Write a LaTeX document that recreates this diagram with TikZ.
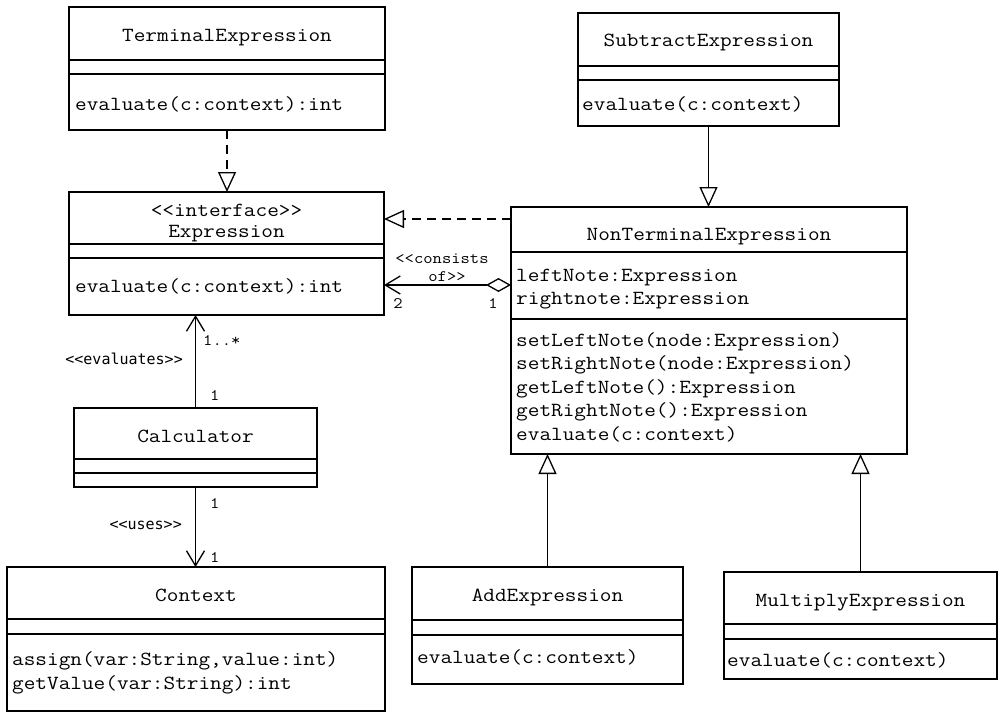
\documentclass[tikz,border=0pt]{standalone}
\usepackage{fontspec}
\usetikzlibrary{arrows.meta}
\newfontfamily\lblmono{DejaVu Sans Mono}
\newcommand\cw[1]{\scalebox{1.131}[1]{#1}}
\newcommand\umlclass[7]{%
  \node[cls, anchor=north west, minimum width={#4-#2}, minimum height={#5-#3}] (#1) at (#2,#3) {};
  \draw[div] (#1.west |- 0,#6) -- (#1.east |- 0,#6);
  \draw[div] (#1.west |- 0,#7) -- (#1.east |- 0,#7);
}
\tikzset{
  cls/.style={draw, line width=1.3pt, inner sep=0pt, outer sep=0pt},
  div/.style={line width=1.3pt},
  txt/.style={font=\ttfamily\fontsize{20}{24}\selectfont, inner sep=0pt, anchor=base},
  mtxt/.style={txt, anchor=base west},
  small/.style={font=\ttfamily\fontsize{16}{19}\selectfont, inner sep=0pt, anchor=base},
  smallw/.style={small, anchor=base west},
  slbl/.style={font=\lblmono\fontsize{15}{19}\selectfont, inner sep=0pt, anchor=base east},
  conn/.style={line width=1.3pt},
  inh/.style={conn, -{Triangle[open, length=20pt, width=18pt]}},
  real/.style={inh, dash pattern=on 9pt off 6pt},
  assoc/.style={conn, -{Straight Barb[length=15pt, width=18pt]}},
  aggr/.style={conn, {Diamond[open, length=25pt, width=14pt]}-{Straight Barb[length=15pt, width=18pt]}},
}
\begin{document}
\begin{tikzpicture}[x=1pt, y=-1pt]
\useasboundingbox (0,0) rectangle (1001,712);

% class boxes
\umlclass{term}{69}{7}{385}{130}{60}{74}
\umlclass{sub}{578}{13}{839}{126}{66}{80}
\umlclass{expr}{69}{192}{384}{315}{244}{258}
\umlclass{nonterm}{511}{207}{907}{454}{252}{319}
\umlclass{calc}{74}{408}{317}{487}{459}{473}
\umlclass{context}{7}{567}{385}{711}{619}{634}
\umlclass{add}{412}{567}{683}{684}{620}{635}
\umlclass{mul}{724}{572}{997}{679}{624}{639}

% texts
\node[txt] (termname) at (227,41) {\cw{TerminalExpression}};
\node[mtxt] (termm) at (75,110) {\cw{evaluate(c:context):int}};

\node[txt] (subname) at (708.5,46) {\cw{SubtractExpression}};
\node[mtxt] (subm) at (582,110) {\cw{evaluate(c:context)}};

\node[txt] (exprst) at (226.5,216) {\cw{<<interface>>}};
\node[txt] (exprname) at (226.5,237) {\cw{Expression}};
\node[mtxt] (exprm) at (75,292) {\cw{evaluate(c:context):int}};

\node[txt] (ntname) at (709,240) {\cw{NonTerminalExpression}};
\node[mtxt] (nta1) at (516,281) {\cw{leftNote:Expression}};
\node[mtxt] (nta2) at (516,304) {\cw{rightnote:Expression}};
\node[mtxt] (ntm1) at (516,346) {\cw{setLeftNote(node:Expression)}};
\node[mtxt] (ntm2) at (516,369.5) {\cw{setRightNote(node:Expression)}};
\node[mtxt] (ntm3) at (516,393) {\cw{getLeftNote():Expression}};
\node[mtxt] (ntm4) at (516,416.5) {\cw{getRightNote():Expression}};
\node[mtxt] (ntm5) at (516,440) {\cw{evaluate(c:context)}};

\node[txt] (calcname) at (195.5,442) {\cw{Calculator}};

\node[txt] (ctxname) at (196,601) {\cw{Context}};
\node[mtxt] (ctxm1) at (12,665) {\cw{assign(var:String,value:int)}};
\node[mtxt] (ctxm2) at (12,689) {\cw{getValue(var:String):int}};

\node[txt] (addname) at (547.5,601) {\cw{AddExpression}};
\node[mtxt] (addm) at (417,663) {\cw{evaluate(c:context)}};

\node[txt] (mulname) at (860.5,606) {\cw{MultiplyExpression}};
\node[mtxt] (mulm) at (727,666) {\cw{evaluate(c:context)}};

% connectors
\draw[real] (term.south) -- (term.south |- expr.north);
\draw[real] (nonterm.west |- 0,219) -- (expr.east |- 0,219);
\draw[aggr] (nonterm.west |- 0,285) -- (expr.east |- 0,285);
\draw[assoc] (calc.north) -- (calc.north |- expr.south);
\draw[assoc] (calc.south) -- (calc.south |- context.north);
\draw[inh] (sub.south) -- (sub.south |- nonterm.north);
\draw[inh] (add.north) -- (add.north |- nonterm.south);
\draw[inh] (mul.north) -- (mul.north |- nonterm.south);

% connector labels
\node[small] (cons1) at (442,263) {\cw{<<consists}};
\node[small] (cons2) at (447,281) {\cw{of>>}};
\node[small] (m2) at (398,308) {\cw{2}};
\node[small] (m1) at (493,308) {\cw{1}};
\node[smallw] (mstar) at (203,345) {\cw{1..*}};
\node[slbl] (evals) at (183,364) {<<evaluates>>};
\node[smallw] (mc1) at (210,400) {\cw{1}};
\node[smallw] (mc2) at (210,508) {\cw{1}};
\node[slbl] (uses) at (182,529) {<<uses>>};
\node[smallw] (mc3) at (210,562) {\cw{1}};
\end{tikzpicture}
\end{document}
